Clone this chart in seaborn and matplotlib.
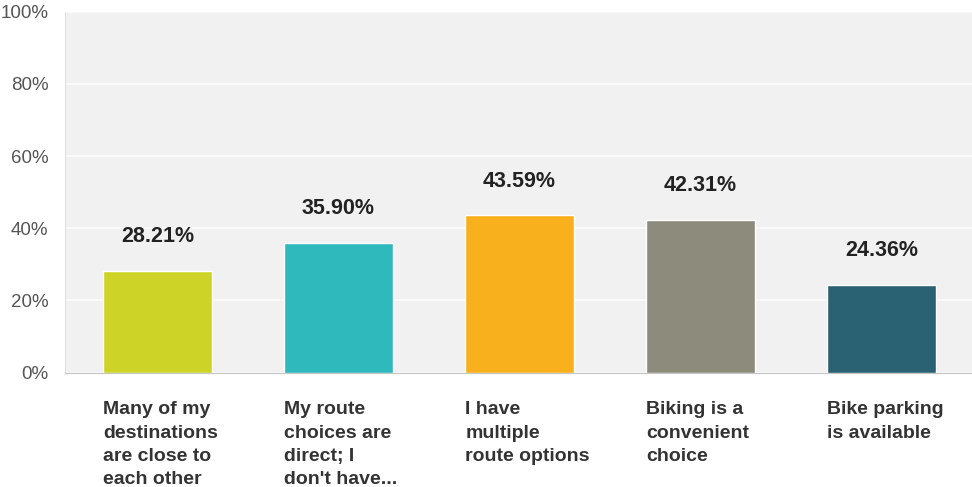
import matplotlib
matplotlib.use("Agg")
import matplotlib.pyplot as plt
import matplotlib.transforms as mtransforms
import pandas as pd
import seaborn as sns

categories = [
    "Many of my\ndestinations\nare close to\neach other",
    "My route\nchoices are\ndirect; I\ndon't have...",
    "I have\nmultiple\nroute options",
    "Biking is a\nconvenient\nchoice",
    "Bike parking\nis available",
]
values = [28.21, 35.90, 43.59, 42.31, 24.36]
colors = ["#cdd327", "#30b9bd", "#f8b01c", "#8c8b7c", "#2b6273"]
y_ticks = [0, 20, 40, 60, 80, 100]

sns.set_style("white")
plt.rcParams["font.family"] = ["Liberation Sans", "DejaVu Sans"]

df = pd.DataFrame({"category": range(len(values)), "value": values})

fig = plt.figure(figsize=(9.72, 4.87), dpi=100)
ax = fig.add_axes([0.067, 0.235, 0.933, 0.741])
ax.set_facecolor("#f1f1f1")

sns.barplot(data=df, x="category", y="value", hue="category", palette=colors,
            legend=False, width=0.6, saturation=1, ax=ax, zorder=3)

ax.set_xlim(-0.51, 4.5)
ax.set_ylim(0, 100)
ax.set_yticks(y_ticks)
ax.set_yticklabels([f"{t}%" for t in y_ticks], fontsize=13.5, color="#555555")
ax.tick_params(axis="y", length=0, pad=12)
ax.set_xticks([])
ax.set_xlabel("")
ax.set_ylabel("")
ax.grid(axis="y", color="#fbfbfb", linewidth=1.2, zorder=0)
ax.set_axisbelow(True)

for side in ["top", "right"]:
    ax.spines[side].set_visible(False)
ax.spines["left"].set_color("#e0e0e0")
ax.spines["bottom"].set_color("#c4c4c4")

for i, v in enumerate(values):
    ax.annotate(f"{v:.2f}%", xy=(i, v), xytext=(0, 17), textcoords="offset points",
                ha="center", va="bottom", fontsize=15.5, fontweight="bold", color="#222222")

trans = mtransforms.blended_transform_factory(ax.transData, ax.transAxes)
for i, label in enumerate(categories):
    ax.text(i - 0.3, -0.08, label, transform=trans, ha="left", va="top",
            fontsize=14, fontweight="bold", color="#333333", linespacing=1.47)

fig.savefig("out.png", dpi=100)
